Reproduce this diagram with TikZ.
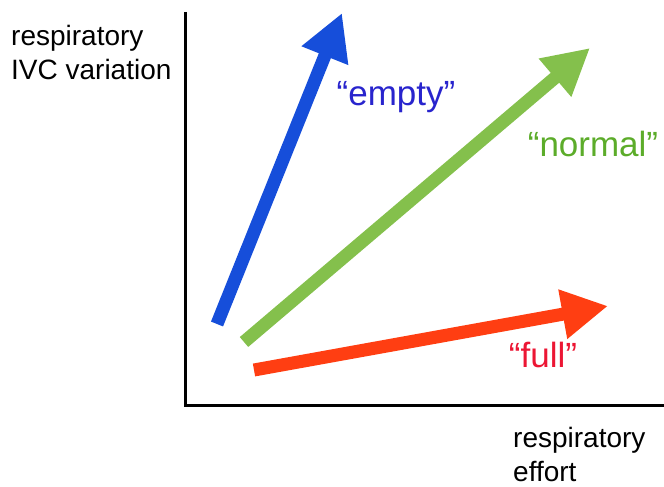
\documentclass[tikz,border=0pt]{standalone}
\usepackage{fontspec}
\setmainfont{Liberation Sans}
\usetikzlibrary{arrows.meta}
\definecolor{ablue}{RGB}{22,78,218}
\definecolor{agreen}{RGB}{132,192,76}
\definecolor{ared}{RGB}{255,62,18}
\definecolor{tblue}{RGB}{40,36,205}
\definecolor{tgreen}{RGB}{92,172,42}
\definecolor{tred}{RGB}{236,22,52}
\tikzset{
  axis/.style={line width=3pt, black},
  bigarrow/.style={line width=13pt, -{Triangle[length=46pt,width=47pt]}},
  axislabel/.style={font=\fontsize{28}{34}\selectfont, anchor=base west, inner sep=0pt, align=left},
  curvelabel/.style={font=\fontsize{35}{40}\selectfont, anchor=base, inner sep=0pt},
}
\begin{document}
\begin{tikzpicture}[x=1pt,y=-1pt]
\useasboundingbox (0,0) rectangle (664,487);
\coordinate (top) at (185,12);
\coordinate (origin) at (185,405);
\coordinate (right) at (664,405);
\draw[axis] (top) -- (origin) -- (right);
\coordinate (b0) at (217,324);
\coordinate (b1) at (342,13);
\coordinate (g0) at (244,342);
\coordinate (g1) at (590,48);
\coordinate (r0) at (254,370);
\coordinate (r1) at (608,306);
\draw[bigarrow, ablue] (b0) -- (b1);
\draw[bigarrow, agreen] (g0) -- (g1);
\draw[bigarrow, ared] (r0) -- (r1);
\node[axislabel] (ylab) at (11,79) {respiratory\\IVC variation};
\node[axislabel] (xlab) at (513,481) {respiratory\\effort};
\node[curvelabel, text=tblue] (empty) at (396,106) {“empty”};
\node[curvelabel, text=tgreen] (normal) at (593,156) {“normal”};
\node[curvelabel, text=tred] (full) at (543,367) {“full”};
\end{tikzpicture}
\end{document}
